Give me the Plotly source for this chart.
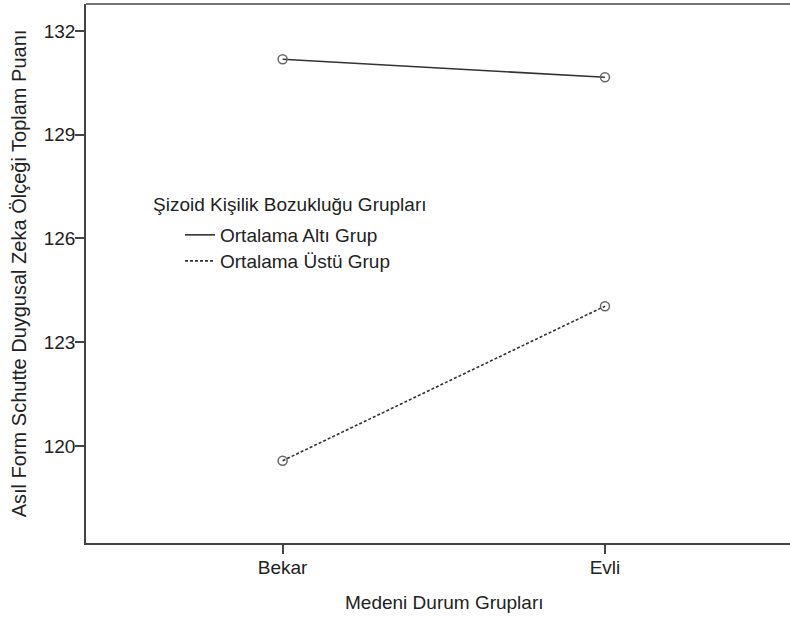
import plotly.graph_objects as go

# marital status groups on x, two schizoid groups as lines
categories = ['Bekar', 'Evli']
alt_grup = [131.18, 130.66]
ustu_grup = [119.57, 124.04]
series_names = ['Ortalama Altı Grup', 'Ortalama Üstü Grup']
y_ticks = [120, 123, 126, 129, 132]

FONT = 'Arial, Liberation Sans, sans-serif'
FS = 19
INK = '#222222'
LINE = '#333333'

# plot area in window pixels, used to place legend/annotations
L, T, W, H = 86, 4, 704, 539


def px_x(x):
    return (x - L) / W


def px_y(y):
    return 1 - (y - T) / H


fig = go.Figure()

for name, vals, dash, leg in [(series_names[0], alt_grup, 'solid', 'legend'),
                              (series_names[1], ustu_grup, '3px,2px', 'legend2')]:
    fig.add_trace(go.Scatter(
        x=categories, y=vals, mode='lines', name=name, legend=leg,
        line=dict(color=LINE, width=1.6, dash=dash),
    ))
    # open circle markers, kept out of the legend
    fig.add_trace(go.Scatter(
        x=categories, y=vals, mode='markers', showlegend=False,
        marker=dict(symbol='circle-open', size=9, color='#666666',
                    line=dict(width=1.5)),
    ))

legend_style = dict(xanchor='left', yanchor='top', bgcolor='rgba(0,0,0,0)',
                    borderwidth=0, font=dict(family=FONT, size=FS, color=INK))

fig.update_layout(
    width=790, height=617,
    margin=dict(l=L, r=0, t=T, b=617 - T - H),
    plot_bgcolor='white', paper_bgcolor='white',
    font=dict(family=FONT, size=FS, color=INK),
    showlegend=True,
    legend=dict(x=px_x(180), y=px_y(216), **legend_style),
    legend2=dict(x=px_x(180), y=px_y(242), **legend_style),
    xaxis=dict(
        type='category', range=[-0.61, 1.574],
        showgrid=False, zeroline=False,
        showline=True, linecolor='#444444', linewidth=1.5,
        ticks='outside', ticklen=9, tickcolor='#444444', tickwidth=1.5,
        tickfont=dict(size=FS, color=INK), ticklabelstandoff=-3,
    ),
    yaxis=dict(
        range=[117.19, 132.78], tickvals=y_ticks,
        showgrid=False, zeroline=False,
        showline=True, linecolor='#444444', linewidth=1.5,
        ticks='outside', ticklen=9, tickcolor='#444444', tickwidth=1.5,
        tickfont=dict(size=FS, color=INK), ticklabelstandoff=-4,
        title=dict(text='Asıl Form Schutte Duygusal Zeka Ölçeği Toplam Puanı',
                   font=dict(size=20, color=INK), standoff=12),
    ),
    annotations=[
        dict(text='Medeni Durum Grupları', xref='paper', yref='paper',
             x=px_x(444), y=0, yshift=-59, xanchor='center',
             yanchor='middle', showarrow=False,
             font=dict(size=FS, color=INK)),
        dict(text='Şizoid Kişilik Bozukluğu Grupları', xref='paper', yref='paper',
             x=px_x(151), y=px_y(204), xanchor='left',
             yanchor='middle', showarrow=False,
             font=dict(size=FS, color=INK)),
    ],
    shapes=[
        # top frame line (right edge of the frame is cropped in the original)
        dict(type='line', xref='paper', yref='paper', x0=0, x1=1, y0=1, y1=1,
             line=dict(color='#444444', width=1.5)),
    ],
)

# drop the default 8px page margin so the figure sits at the window corner
fig.write_html('out.html', config={'displayModeBar': False},
               post_script="document.body.style.margin='0';")
